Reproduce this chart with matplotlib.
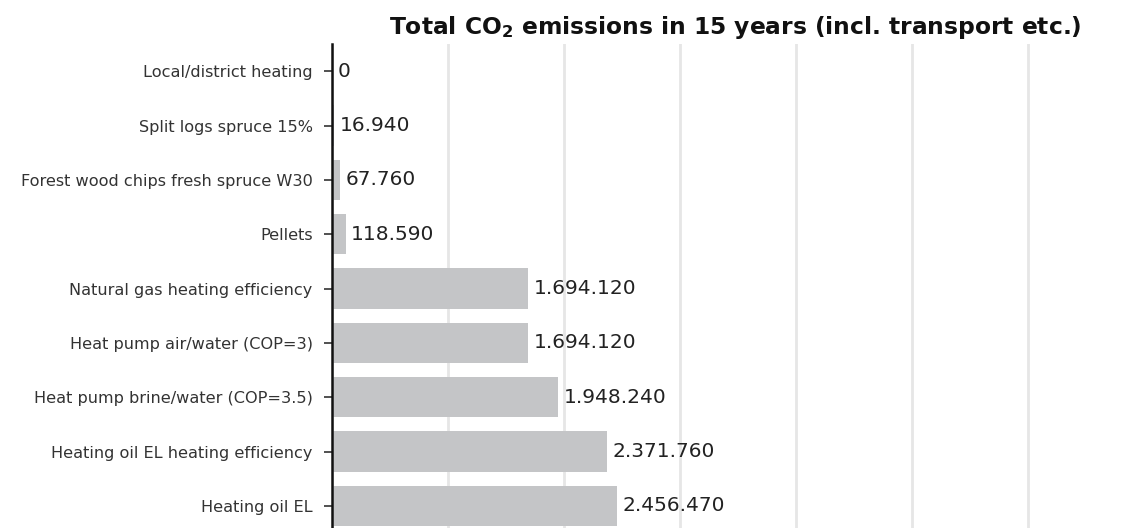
import matplotlib
matplotlib.use('Agg')
import matplotlib.pyplot as plt
from matplotlib.ticker import MultipleLocator

plt.rcParams['font.family'] = ['DejaVu Sans']
plt.rcParams['mathtext.default'] = 'bf'

# Data
heating_systems = [
    'Local/district heating',
    'Split logs spruce 15%',
    'Forest wood chips fresh spruce W30',
    'Pellets',
    'Natural gas heating efficiency',
    'Heat pump air/water (COP=3)',
    'Heat pump brine/water (COP=3.5)',
    'Heating oil EL heating efficiency',
    'Heating oil EL',
]
co2_15_years = [0, 16940, 67760, 118590, 1694120, 1694120, 1948240, 2371760, 2456470]

fig = plt.figure(figsize=(11.38, 5.28), dpi=100)
ax = fig.add_axes([0.2917, -0.0095, 0.7083, 0.926])

pos = list(range(len(heating_systems)))
ax.barh(pos, co2_15_years, height=0.74, color='#c4c5c7', zorder=2)

for y, v in zip(pos, co2_15_years):
    label = f'{v:,}'.replace(',', '.')
    ax.annotate(label, (v, y), xytext=(4, 0), textcoords='offset points',
                ha='left', va='center', fontsize=14.5, color='#222222', zorder=3)

ax.set_ylim(len(heating_systems) - 0.5, -0.5)
ax.set_xlim(0, 6.95e6)
ax.set_yticks(pos)
ax.set_yticklabels(heating_systems, fontsize=11.6, color='#333333')
ax.xaxis.set_major_locator(MultipleLocator(1e6))
ax.tick_params(axis='x', length=0, labelbottom=False)
ax.tick_params(axis='y', length=6, width=1.2, color='#333333', pad=8)
ax.grid(axis='x', color='#e6e6e6', linewidth=2, zorder=1)

for s in ['top', 'right', 'bottom']:
    ax.spines[s].set_visible(False)
ax.spines['left'].set_linewidth(1.8)
ax.spines['left'].set_color('#111111')
ax.spines['left'].set_zorder(4)

fig.text(0.646, 0.935, 'Total CO$_2$ emissions in 15 years (incl. transport etc.)',
         ha='center', va='baseline', fontsize=16.8, fontweight='bold', color='#111111')

plt.savefig('out.png', dpi=100)
